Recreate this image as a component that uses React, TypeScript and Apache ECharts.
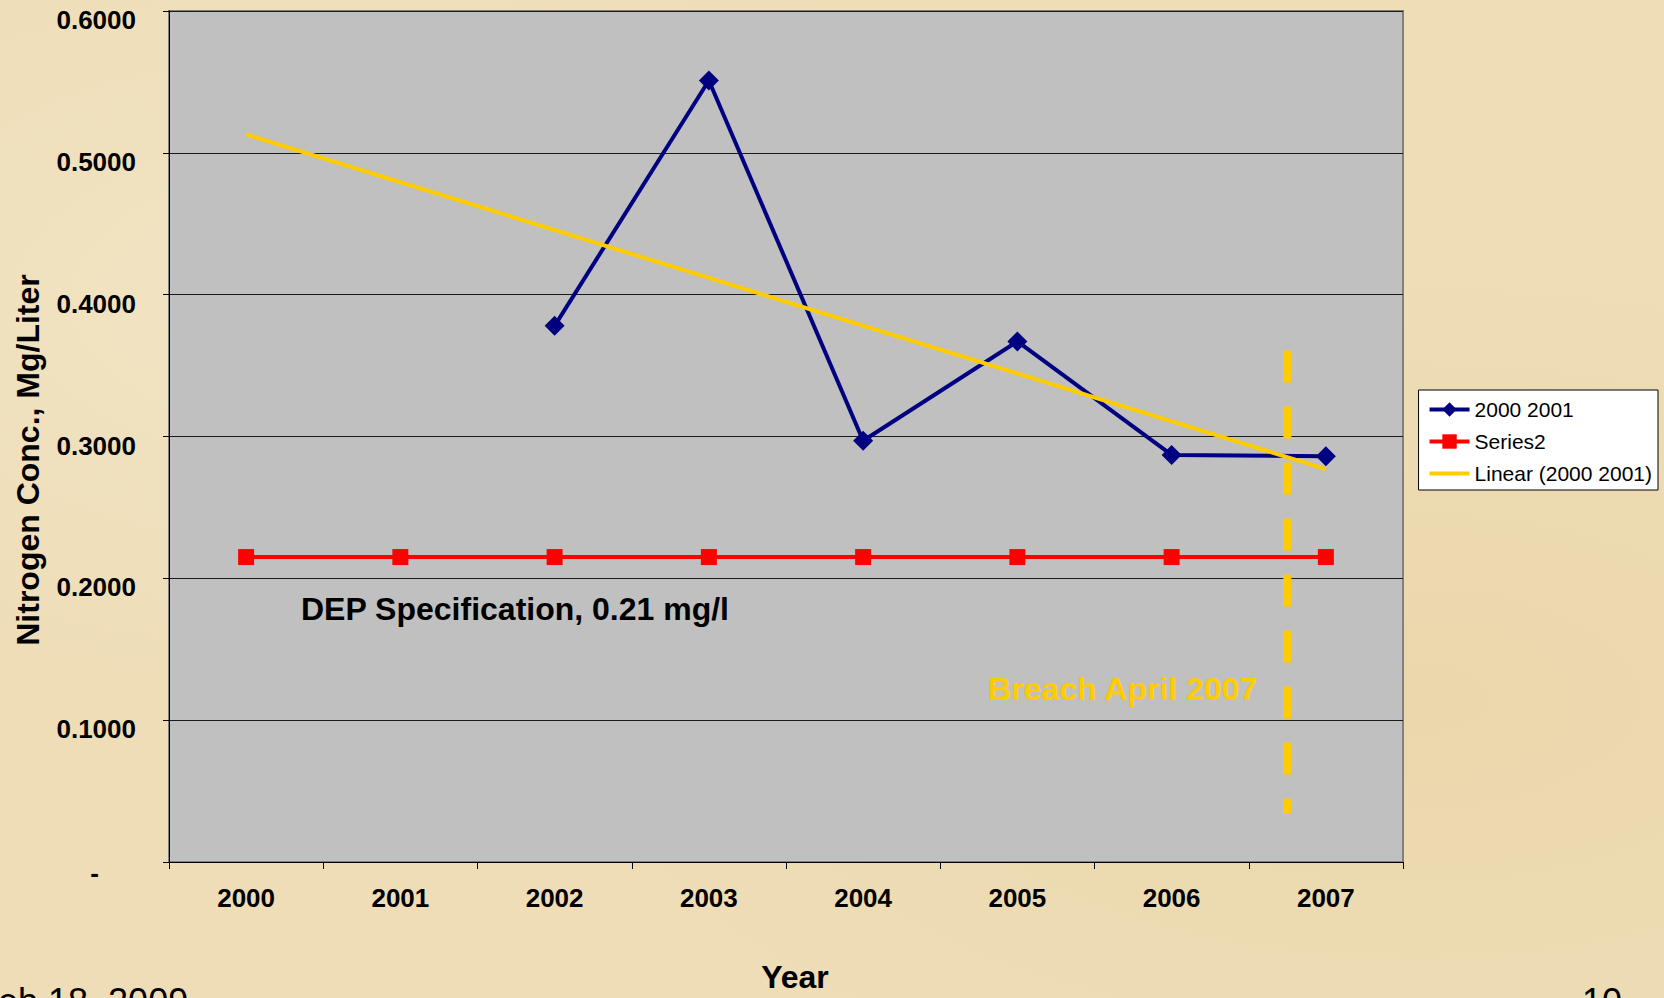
import React, { useEffect, useRef } from "react";
import * as echarts from "echarts";

const years = ["2000", "2001", "2002", "2003", "2004", "2005", "2006", "2007"];
const nitrogen = [null, null, 0.378, 0.551, 0.297, 0.367, 0.287, 0.286];
const spec = [0.215, 0.215, 0.215, 0.215, 0.215, 0.215, 0.215, 0.215];
const trend = [0.513, null, null, null, null, null, null, 0.277];
const breachLine = [
  [6.75, 0.3606],
  [6.75, 0.0338],
];
const yTicks = { min: 0, max: 0.6, interval: 0.1 };

const FONT = 'Arial, "Liberation Sans", sans-serif';

export default function App() {
  const ref = useRef<HTMLDivElement>(null);
  useEffect(() => {
    if (!ref.current) return;
    const chart = echarts.init(ref.current, null, { renderer: "svg" });
    chart.setOption({
      animation: false,
      backgroundColor: "transparent",
      textStyle: { fontFamily: FONT },
      grid: {
        left: 169,
        top: 11,
        right: 261,
        bottom: 131,
        show: true,
        backgroundColor: "#C0C0C0",
        borderColor: "#808080",
        borderWidth: 2,
      },
      legend: {
        orient: "vertical",
        right: 6,
        top: 390,
        backgroundColor: "#FFFFFF",
        borderColor: "#000000",
        borderWidth: 1,
        borderRadius: 0,
        padding: [9, 6, 6, 9],
        itemWidth: 40,
        itemHeight: 18,
        itemGap: 11,
        lineStyle: { width: 4 },
        textStyle: { fontSize: 21, color: "#000", fontFamily: FONT },
        data: [
          { name: "2000 2001" },
          { name: "Series2" },
          { name: "Linear (2000 2001)", itemStyle: { opacity: 0 } },
        ],
      },
      xAxis: [
        {
          type: "category",
          data: years,
          boundaryGap: true,
          axisLine: {
            show: true,
            onZero: false,
            lineStyle: { color: "#000", width: 1 },
          },
          axisTick: { show: true, length: 7, lineStyle: { color: "#000" } },
          axisLabel: {
            fontSize: 26,
            fontWeight: "bold",
            color: "#000",
            margin: 23,
            fontFamily: FONT,
          },
          name: "Year",
          nameLocation: "middle",
          nameGap: 99,
          nameTextStyle: {
            fontSize: 32,
            fontWeight: "bold",
            color: "#000",
            fontFamily: FONT,
            padding: [0, 0, 0, 18],
          },
          splitLine: { show: false },
        },
        {
          type: "value",
          min: -0.5,
          max: 7.5,
          show: false,
        },
      ],
      yAxis: {
        type: "value",
        min: yTicks.min,
        max: yTicks.max,
        interval: yTicks.interval,
        axisLine: {
          show: true,
          onZero: false,
          lineStyle: { color: "#000", width: 1 },
        },
        axisTick: { show: true, length: 6, lineStyle: { color: "#000" } },
        axisLabel: {
          margin: 33,
          color: "#000",
          formatter: (v: number) =>
            Math.abs(v) < 1e-9 ? "{d|-}" : "{n|" + v.toFixed(4) + "}",
          rich: {
            n: {
              fontSize: 26,
              fontWeight: "bold",
              color: "#000",
              fontFamily: FONT,
              padding: [18, 0, 0, 0],
            },
            d: {
              fontSize: 26,
              fontWeight: "bold",
              color: "#000",
              fontFamily: FONT,
              padding: [22, 37, 0, 0],
            },
          },
        },
        splitLine: { show: true, lineStyle: { color: "#1a1a1a", width: 1 } },
      },
      series: [
        {
          name: "Series2",
          type: "line",
          data: spec,
          symbol: "rect",
          symbolSize: 16,
          itemStyle: { color: "#FF0000" },
          lineStyle: { color: "#FF0000", width: 4 },
          z: 2,
        },
        {
          name: "2000 2001",
          type: "line",
          data: nitrogen,
          symbol: "diamond",
          symbolSize: 20,
          itemStyle: { color: "#000080" },
          lineStyle: { color: "#000080", width: 4 },
          z: 3,
        },
        {
          name: "Linear (2000 2001)",
          type: "line",
          data: trend,
          connectNulls: true,
          symbol: "none",
          itemStyle: { color: "#FFCC00" },
          lineStyle: { color: "#FFCC00", width: 4 },
          z: 4,
        },
        {
          name: "Breach",
          type: "line",
          xAxisIndex: 1,
          data: breachLine,
          symbol: "none",
          lineStyle: { color: "#FFCC00", width: 8, type: [32, 24], cap: "butt" },
          z: 5,
        },
      ],
      graphic: [
        {
          type: "text",
          x: 28,
          y: 460,
          rotation: Math.PI / 2,
          style: {
            text: "Nitrogen Conc., Mg/Liter",
            fontSize: 32,
            fontWeight: "bold",
            fontFamily: FONT,
            fill: "#000",
            align: "center",
            verticalAlign: "middle",
          },
        },
        {
          type: "text",
          x: 301,
          y: 609,
          style: {
            text: "DEP Specification, 0.21 mg/l",
            fontSize: 32,
            fontWeight: "bold",
            fontFamily: FONT,
            fill: "#000",
            align: "left",
            verticalAlign: "middle",
          },
        },
        {
          type: "text",
          x: 988,
          y: 689,
          style: {
            text: "Breach April 2007",
            fontSize: 32,
            fontWeight: "bold",
            fontFamily: FONT,
            fill: "#FFCC00",
            align: "left",
            verticalAlign: "middle",
          },
        },
        {
          type: "text",
          x: -24,
          y: 1001,
          style: {
            text: "Feb 18, 2009",
            fontSize: 36,
            fontFamily: FONT,
            fill: "#000",
            align: "left",
            verticalAlign: "middle",
          },
        },
        {
          type: "text",
          x: 1582,
          y: 1001,
          style: {
            text: "10",
            fontSize: 36,
            fontFamily: FONT,
            fill: "#000",
            align: "left",
            verticalAlign: "middle",
          },
        },
      ],
    });
    return () => chart.dispose();
  }, []);
  return (
    <div
      style={{
        position: "fixed",
        left: 0,
        top: 0,
        width: 1664,
        height: 998,
        overflow: "hidden",
        background:
          "radial-gradient(ellipse at 20% 30%, #F2E4C4 0%, rgba(242,228,196,0) 40%), radial-gradient(ellipse at 85% 70%, #EBD7AC 0%, rgba(235,215,172,0) 45%), #EEDDB7",
      }}
    >
      <div ref={ref} style={{ width: 1664, height: 998 }} />
    </div>
  );
}
